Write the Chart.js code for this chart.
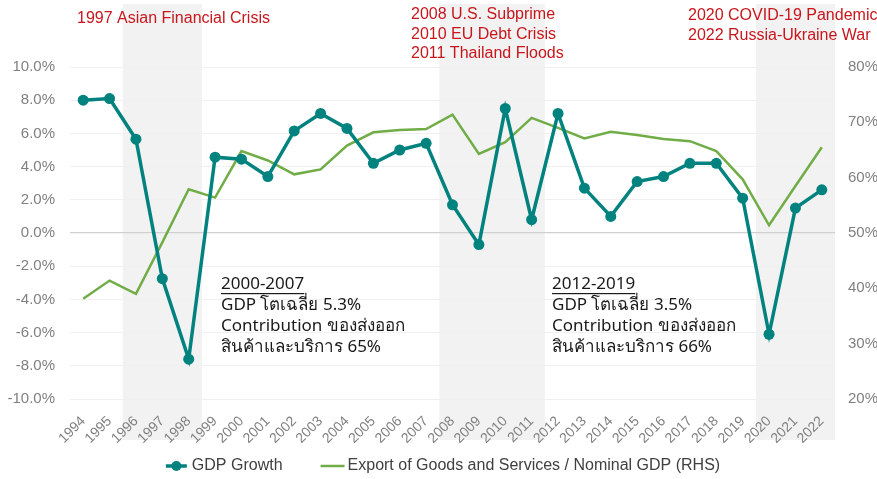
<!DOCTYPE html>
<html>
<head>
<meta charset="utf-8">
<script src="https://cdn.jsdelivr.net/npm/chart.js@4"></script>
<style>
  html, body { margin: 0; padding: 0; background: #fff; }
  #wrap { width: 877px; height: 479px; }
</style>
</head>
<body>
<div id="wrap"><canvas id="chart" width="877" height="479"></canvas></div>
<script>
const years = ["1994", "1995", "1996", "1997", "1998", "1999", "2000", "2001", "2002", "2003",
  "2004", "2005", "2006", "2007", "2008", "2009", "2010", "2011", "2012", "2013",
  "2014", "2015", "2016", "2017", "2018", "2019", "2020", "2021", "2022"];

// GDP growth, % (left axis)
const gdpGrowth = [8.0, 8.1, 5.65, -2.75, -7.6, 4.57, 4.45, 3.4, 6.15, 7.2,
  6.3, 4.2, 5.0, 5.4, 1.7, -0.7, 7.5, 0.8, 7.2, 2.7,
  1.0, 3.1, 3.4, 4.2, 4.2, 2.1, -6.1, 1.5, 2.6];

// exports of goods and services / nominal GDP, % (right axis)
const exportShare = [38.1, 41.4, 39.0, 48.3, 57.9, 56.4, 64.8, 63.1, 60.6, 61.5,
  65.8, 68.2, 68.6, 68.8, 71.4, 64.3, 66.4, 70.8, 69.0, 67.1,
  68.3, 67.7, 67.0, 66.6, 64.8, 59.7, 51.4, 58.5, 65.5];

// crisis periods shaded behind the chart (first and last year of each)
const crisisBands = [["1996", "1998"], ["2008", "2011"], ["2020", "2022"]];

const crisisNotes = [
  { x: 77, y: 19, lines: ["1997 Asian Financial Crisis"] },
  { x: 411, y: 15, lines: ["2008 U.S. Subprime", "2010 EU Debt Crisis", "2011 Thailand Floods"] },
  { x: 688, y: 16, lines: ["2020 COVID-19 Pandemic", "2022 Russia-Ukraine War"] },
];

const periodNotes = [
  { x: 221, y: 284, lines: ["2000-2007", "GDP โตเฉลี่ย 5.3%", "Contribution ของส่งออก", "สินค้าและบริการ 65%"] },
  { x: 552, y: 284, lines: ["2012-2019", "GDP โตเฉลี่ย 3.5%", "Contribution ของส่งออก", "สินค้าและบริการ 66%"] },
];

const TEAL = "#00827f";
const GREEN = "#70ad47";
const GREY = "#808080";
const ARIAL = '"Liberation Sans", Arial, sans-serif';

const overlayPlugin = {
  id: "overlay",
  beforeDraw(chart) {
    const { ctx, scales: { x } } = chart;
    ctx.save();
    ctx.fillStyle = "#f2f2f2";
    crisisBands.forEach(([from, to]) => {
      const left = x.getPixelForValue(years.indexOf(from) - 0.5);
      const right = x.getPixelForValue(years.indexOf(to) + 0.5);
      ctx.fillRect(left, 4, right - left, 436);
    });
    ctx.restore();
  },
  afterDraw(chart) {
    const ctx = chart.ctx;
    ctx.save();
    ctx.textBaseline = "middle";
    ctx.textAlign = "left";

    ctx.fillStyle = "#c8161d";
    ctx.font = "16px " + ARIAL;
    crisisNotes.forEach(n => {
      n.lines.forEach((t, i) => ctx.fillText(t, n.x, n.y + i * 19.3));
    });

    ctx.fillStyle = "#1a1a1a";
    ctx.font = '17px "Noto Sans", "Open Sans", sans-serif';
    periodNotes.forEach(n => {
      n.lines.forEach((t, i) => {
        const y = n.y + i * 21;
        ctx.fillText(t, n.x, y);
        if (i === 0) {
          const w = ctx.measureText(t).width;
          ctx.fillRect(n.x, y + 9, w, 1.2);
        }
      });
    });

    // legend, drawn by hand so the spacing follows the original
    const ds = chart.data.datasets;
    ctx.font = "16px " + ARIAL;
    ctx.fillStyle = "#404040";
    const w1 = ctx.measureText(ds[0].label).width;
    const w2 = ctx.measureText(ds[1].label).width;
    const total = 21 + 5 + w1 + 38 + 24 + 3 + w2;
    let lx = 443 - total / 2;
    const ly = 466;
    ctx.strokeStyle = TEAL;
    ctx.lineWidth = 3.5;
    ctx.beginPath();
    ctx.moveTo(lx, ly);
    ctx.lineTo(lx + 21, ly);
    ctx.stroke();
    ctx.fillStyle = TEAL;
    ctx.beginPath();
    ctx.arc(lx + 10.5, ly, 5, 0, Math.PI * 2);
    ctx.fill();
    lx += 26;
    ctx.fillStyle = "#404040";
    ctx.fillText(ds[0].label, lx, ly);
    lx += w1 + 38;
    ctx.strokeStyle = GREEN;
    ctx.lineWidth = 2.5;
    ctx.beginPath();
    ctx.moveTo(lx, ly);
    ctx.lineTo(lx + 24, ly);
    ctx.stroke();
    lx += 27;
    ctx.fillText(ds[1].label, lx, ly);
    ctx.restore();
  }
};

new Chart(document.getElementById("chart"), {
  type: "line",
  data: {
    labels: years,
    datasets: [
      {
        label: "GDP Growth",
        data: gdpGrowth,
        yAxisID: "y",
        borderColor: TEAL,
        backgroundColor: TEAL,
        borderWidth: 3.5,
        pointRadius: 5.5,
        pointHoverRadius: 5.5,
        pointBackgroundColor: TEAL,
        pointBorderWidth: 0,
        tension: 0,
      },
      {
        label: "Export of Goods and Services / Nominal GDP (RHS)",
        data: exportShare,
        yAxisID: "y1",
        borderColor: GREEN,
        backgroundColor: GREEN,
        borderWidth: 2.5,
        pointRadius: 0,
        tension: 0,
      },
    ],
  },
  options: {
    responsive: false,
    animation: false,
    layout: { padding: { top: 67, left: 0, right: 0, bottom: 36 } },
    plugins: {
      tooltip: { enabled: false },
      legend: { display: false },
    },
    scales: {
      x: {
        offset: true,
        grid: { display: false, drawTicks: false },
        border: { display: false },
        ticks: {
          color: GREY,
          maxRotation: 45,
          minRotation: 45,
          autoSkip: false,
          padding: 14,
          font: { size: 14, family: ARIAL },
        },
        afterFit(scale) { scale.height = 44; },
      },
      y: {
        position: "left",
        min: -10,
        max: 10,
        grid: {
          drawTicks: false,
          color: ctx => ctx.tick.value === 0 ? "#d0d0d0" : "#f0f0f0",
          lineWidth: ctx => ctx.tick.value === 0 ? 1.3 : 1,
        },
        border: { display: false },
        ticks: {
          stepSize: 2,
          color: GREY,
          padding: 15,
          font: { size: 15, family: ARIAL },
          callback: v => v.toFixed(1) + "%",
        },
        afterFit(scale) { scale.width = 70; },
      },
      y1: {
        position: "right",
        min: 20,
        max: 80,
        grid: { display: false, drawTicks: false },
        border: { display: false },
        ticks: {
          stepSize: 10,
          color: GREY,
          padding: 13,
          font: { size: 15, family: ARIAL },
          callback: v => v + "%",
        },
        afterFit(scale) { scale.width = 42; },
      },
    },
  },
  plugins: [overlayPlugin],
});
</script>
</body>
</html>
